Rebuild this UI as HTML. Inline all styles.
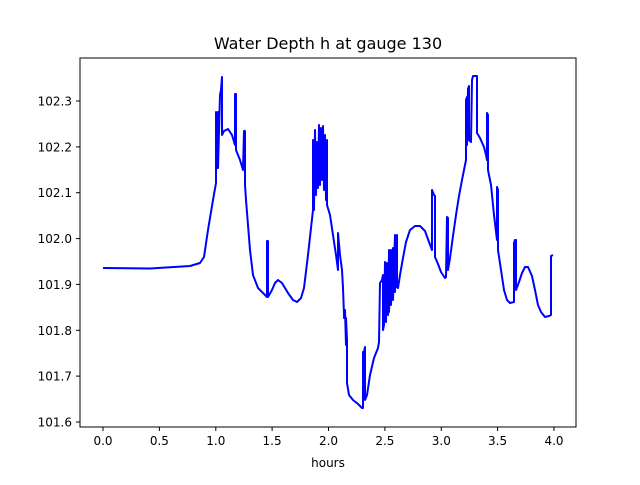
<!DOCTYPE html>
<html><head><style>body{margin:0;background:#fff}</style></head><body>
<svg width="640" height="480" xmlns="http://www.w3.org/2000/svg" font-family="DejaVu Sans, Liberation Sans, sans-serif">
<rect width="640" height="480" fill="#fff"/>
<text x="328" y="49" font-size="16" text-anchor="middle">Water Depth h at gauge 130</text>
<polyline fill="none" stroke="#0000ff" stroke-width="2" stroke-linejoin="round" points="
103,268 150,268.5 190,266 200,263 204,257 208,230 213,200 216,183 216,112 217,168 218,112 218,168 220,95 221,90 222,77 222,135 224,131 228,129 232,135 235,145 235,94 236,94 236,150 240,160 243,170 244,131 245,131 245,185 246,200 250,250 253,275 258,288 263,293 267,297 267,241 268,241 268,297 272,290 275,283 278,280 282,283 288,293 293,300 297,302 301,298 304,288 308,255 313,210 313,140 314,210 315,130 316,195 317,142 318,188 319,125 320,185 321,128 322,180 323,126 324,190 325,135 326,200 327,140 327,205 330,215 333,235 336,255 338,270 338,233 340,255 342,270 343,288 344,315 344,318 345,310 346,345 346,318 347,340 347,383 349,395 353,400 358,404 362,408 363,408 363,352 364,352 365,347 365,400 367,395 370,375 374,358 378,348 379,342 380,283 382,280 383,275 383,330 384,325 385,262 386,322 387,263 388,315 389,250 389,312 391,250 391,305 393,248 393,300 395,235 395,292 397,235 397,287 398,288 400,275 403,258 406,242 410,230 415,226 420,226 425,231 429,242 432,250 432,190 434,195 435,196 435,257 438,264 441,272 445,278 446,277 447,217 448,218 448,270 450,258 453,236 456,215 459,196 462,180 466,160 466,100 467,97 467,145 468,89 469,86 469,140 471,142 472,80 473,76 476,76 477,76 477,133 480,138 484,147 486,155 487,160 487,113 488,115 488,170 491,185 494,215 497,240 497,187 498,190 498,250 501,270 504,290 507,300 510,303 514,302 514,243 515,240 516,240 516,290 519,282 522,273 525,267 528,267 532,276 535,290 538,305 541,312 545,317 549,316 551,315 551,256 553,255"/>
<rect x="80" y="58" width="496" height="369" fill="none" stroke="#000" stroke-width="1"/>
<g stroke="#000" stroke-width="1">
<line x1="103" y1="427" x2="103" y2="431"/><line x1="159.4" y1="427" x2="159.4" y2="431"/><line x1="215.8" y1="427" x2="215.8" y2="431"/><line x1="272.1" y1="427" x2="272.1" y2="431"/><line x1="328.5" y1="427" x2="328.5" y2="431"/><line x1="384.9" y1="427" x2="384.9" y2="431"/><line x1="441.3" y1="427" x2="441.3" y2="431"/><line x1="497.6" y1="427" x2="497.6" y2="431"/><line x1="554" y1="427" x2="554" y2="431"/>
<line x1="76" y1="422" x2="80" y2="422"/><line x1="76" y1="376.1" x2="80" y2="376.1"/><line x1="76" y1="330.3" x2="80" y2="330.3"/><line x1="76" y1="284.4" x2="80" y2="284.4"/><line x1="76" y1="238.6" x2="80" y2="238.6"/><line x1="76" y1="192.7" x2="80" y2="192.7"/><line x1="76" y1="146.9" x2="80" y2="146.9"/><line x1="76" y1="101" x2="80" y2="101"/>
</g>
<g font-size="12" text-anchor="middle">
<text x="103" y="445">0.0</text><text x="159.4" y="445">0.5</text><text x="215.8" y="445">1.0</text><text x="272.1" y="445">1.5</text><text x="328.5" y="445">2.0</text><text x="384.9" y="445">2.5</text><text x="441.3" y="445">3.0</text><text x="497.6" y="445">3.5</text><text x="554" y="445">4.0</text>
<text x="328" y="467">hours</text>
</g>
<g font-size="12" text-anchor="end">
<text x="72" y="426.5">101.6</text><text x="72" y="380.6">101.7</text><text x="72" y="334.8">101.8</text><text x="72" y="288.9">101.9</text><text x="72" y="243.1">102.0</text><text x="72" y="197.2">102.1</text><text x="72" y="151.4">102.2</text><text x="72" y="105.5">102.3</text>
</g>
</svg>
</body></html>
